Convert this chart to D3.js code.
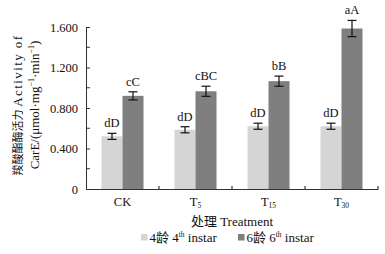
<!DOCTYPE html>
<html>
<head>
<meta charset="utf-8">
<script src="https://cdn.jsdelivr.net/npm/d3@7"></script>
<style>
body { margin: 0; background: #fff; }
svg text { font-family: "Liberation Serif", "Noto Sans CJK SC", serif; fill: #111; }
</style>
</head>
<body>
<div id="chart-area"></div>
<script>
// categories and series
var treatments = ["CK", "T5", "T15", "T30"];
var subs = ["", "5", "15", "30"];
var instar4 = [0.52, 0.585, 0.62, 0.62];
var instar4Err = [0.03, 0.03, 0.03, 0.03];
var instar6 = [0.92, 0.965, 1.065, 1.585];
var instar6Err = [0.04, 0.05, 0.05, 0.08];
var letters4 = ["dD", "dD", "dD", "dD"];
var letters6 = ["cC", "cBC", "bB", "aA"];
var yTicks = [0, 0.4, 0.8, 1.2, 1.6];
var yMinor = [0.2, 0.6, 1.0, 1.4];

var margin = {top: 27, right: 7, bottom: 65, left: 86};
var width = 292;
var height = 162;
var colors = ["#d5d5d5", "#7f7f7f"];
var serif = "'Liberation Serif', 'Noto Sans CJK SC', serif";

var svg = d3.select("#chart-area")
    .append("svg")
        .attr("width", 385)
        .attr("height", 254)
        .attr("font-family", serif);

var g = svg.append("g")
    .attr("transform", "translate(" + margin.left + ", " + margin.top + ")");

var x = d3.scaleBand()
    .domain(treatments)
    .range([0, width])
    .paddingInner(0)
    .paddingOuter(0);

var xi = d3.scaleBand()
    .domain([0, 1])
    .range([x.bandwidth() / 2 - 21, x.bandwidth() / 2 + 21]);

var y = d3.scaleLinear()
    .domain([0, 1.6])
    .range([height, 0]);

var data = treatments.map((t, i) => {
    return [
        {t: t, s: 0, v: instar4[i], e: instar4Err[i], lab: letters4[i]},
        {t: t, s: 1, v: instar6[i], e: instar6Err[i], lab: letters6[i]}
    ];
}).flat();

// bars
g.selectAll("rect.bar")
    .data(data)
    .enter()
    .append("rect")
        .attr("class", "bar")
        .attr("x", (d) => x(d.t) + xi(d.s))
        .attr("y", (d) => y(d.v))
        .attr("width", xi.bandwidth())
        .attr("height", (d) => height - y(d.v))
        .attr("fill", (d) => colors[d.s]);

// error bars
var eb = g.selectAll("g.err")
    .data(data)
    .enter()
    .append("g")
        .attr("class", "err")
        .attr("stroke", "#111")
        .attr("stroke-width", 1.2);
var cx = (d) => x(d.t) + xi(d.s) + xi.bandwidth() / 2;
eb.append("line")
    .attr("x1", cx).attr("x2", cx)
    .attr("y1", (d) => y(d.v + d.e)).attr("y2", (d) => y(d.v - d.e));
eb.append("line")
    .attr("x1", (d) => cx(d) - 4.5).attr("x2", (d) => cx(d) + 4.5)
    .attr("y1", (d) => y(d.v + d.e)).attr("y2", (d) => y(d.v + d.e));
eb.append("line")
    .attr("x1", (d) => cx(d) - 4.5).attr("x2", (d) => cx(d) + 4.5)
    .attr("y1", (d) => y(d.v - d.e)).attr("y2", (d) => y(d.v - d.e));

// significance letters
g.selectAll("text.sig")
    .data(data)
    .enter()
    .append("text")
        .attr("class", "sig")
        .attr("x", cx)
        .attr("y", (d) => y(d.v + d.e) - 6)
        .attr("text-anchor", "middle")
        .attr("font-size", "12.5px")
        .text((d) => d.lab);

// y axis
var yAxisCall = d3.axisLeft(y)
    .tickValues(yTicks)
    .tickSize(-4)
    .tickSizeOuter(0)
    .tickPadding(8)
    .tickFormat((d) => d === 0 ? "0" : d3.format(".3f")(d));
var ya = g.append("g")
    .attr("class", "left axis")
    .call(yAxisCall)
    .attr("font-family", serif);
ya.selectAll("text").attr("font-size", "12.5px");
ya.selectAll("line.minor")
    .data(yMinor)
    .enter()
    .append("line")
        .attr("class", "minor")
        .attr("x1", 0).attr("x2", 4)
        .attr("y1", (d) => y(d)).attr("y2", (d) => y(d));
ya.selectAll("path, line").attr("stroke", "#333");

// x axis
var xa = g.append("g")
    .attr("class", "bottom axis")
    .attr("transform", "translate(0, " + height + ")")
    .call(d3.axisBottom(x).tickSize(0).tickSizeOuter(0))
    .attr("font-family", serif);
xa.select("path").attr("stroke", "#333");
xa.selectAll("text").remove();
xa.selectAll(".tick").append("text")
    .attr("y", 17)
    .attr("text-anchor", "middle")
    .attr("font-size", "12.5px")
    .attr("fill", "#111")
    .each(function(d, i) {
        var t = d3.select(this);
        t.append("tspan").text(d.charAt(0) === "T" ? "T" : d);
        if (subs[i]) {
            t.append("tspan")
                .attr("font-size", "7.5px")
                .attr("dy", 2)
                .text(subs[i]);
        }
    });
xa.selectAll("line.bound")
    .data(treatments)
    .enter()
    .append("line")
        .attr("class", "bound")
        .attr("x1", (d) => x(d) + x.step()).attr("x2", (d) => x(d) + x.step())
        .attr("y1", 0).attr("y2", -3)
        .attr("stroke", "#111");

// axis titles
g.append("text")
    .attr("x", width / 2)
    .attr("y", height + 37)
    .attr("text-anchor", "middle")
    .attr("font-size", "13px")
    .text("处理 Treatment");

var yt = g.append("text")
    .attr("transform", "translate(-64, " + (height / 2 - 3) + ") rotate(-90)")
    .attr("text-anchor", "middle")
    .attr("font-size", "13px");
var l1 = yt.append("tspan").attr("x", 0).attr("dy", 0);
l1.append("tspan").attr("font-size", "11px").text("羧酸酯酶活力 ");
l1.append("tspan").attr("letter-spacing", "1.4px").text("Activity of");
var l2 = yt.append("tspan").attr("x", 0).attr("dy", 17);
l2.append("tspan").text("CarE/(μmol·mg");
l2.append("tspan").attr("font-size", "8px").attr("dy", -5).text("−1");
l2.append("tspan").attr("dy", 5).text("·min");
l2.append("tspan").attr("font-size", "8px").attr("dy", -5).text("−1");
l2.append("tspan").attr("dy", 5).text(")");

// legend
var legendItems = [
    {c: colors[0], a: "4龄 4", b: "th", z: " instar", x: 55},
    {c: colors[1], a: "6龄 6", b: "th", z: " instar", x: 152}
];
var lg = g.selectAll("g.legend")
    .data(legendItems)
    .enter()
    .append("g")
        .attr("class", "legend")
        .attr("transform", (d) => "translate(" + d.x + ", " + (height + 45) + ")");
lg.append("rect")
    .attr("width", 6.5).attr("height", 6.5)
    .attr("y", 0)
    .attr("fill", (d) => d.c);
lg.append("text")
    .attr("x", 8.5)
    .attr("y", 7.5)
    .attr("font-size", "13px")
    .each(function(d) {
        var t = d3.select(this);
        t.append("tspan").text(d.a);
        t.append("tspan").attr("font-size", "7.5px").attr("dy", -5).text(d.b);
        t.append("tspan").attr("dy", 5).text(d.z);
    });
</script>
</body>
</html>
